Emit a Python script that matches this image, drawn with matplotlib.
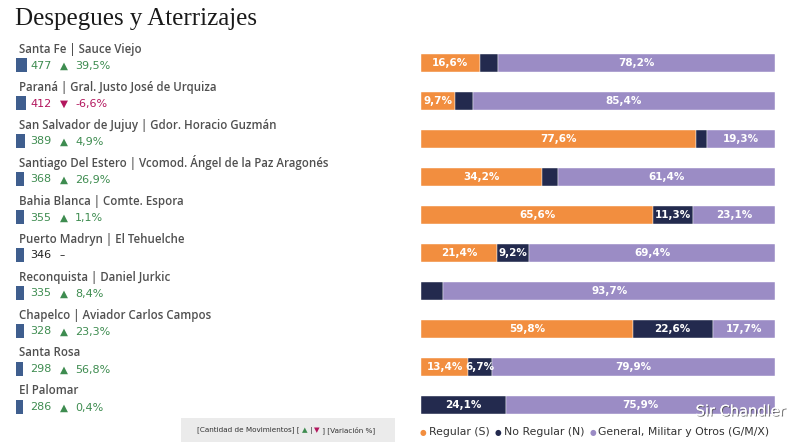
import matplotlib.pyplot as plt
import matplotlib.patheffects as pe
from matplotlib.patches import Rectangle

aeropuertos = ['Santa Fe | Sauce Viejo',
               'Paraná | Gral. Justo José de Urquiza',
               'San Salvador de Jujuy | Gdor. Horacio Guzmán',
               'Santiago Del Estero | Vcomod. Ángel de la Paz Aragonés',
               'Bahia Blanca | Comte. Espora',
               'Puerto Madryn | El Tehuelche',
               'Reconquista | Daniel Jurkic',
               'Chapelco | Aviador Carlos Campos',
               'Santa Rosa',
               'El Palomar']
movimientos = [477, 412, 389, 368, 355, 346, 335, 328, 298, 286]
variacion = [39.5, -6.6, 4.9, 26.9, 1.1, 0.0, 8.4, 23.3, 56.8, 0.4]
regular = [16.6, 9.7, 77.6, 34.2, 65.6, 21.4, 0.0, 59.8, 13.4, 0.0]
no_regular = [5.2, 4.9, 3.1, 4.4, 11.3, 9.2, 6.3, 22.6, 6.7, 24.1]
general = [78.2, 85.4, 19.3, 61.4, 23.1, 69.4, 93.7, 17.7, 79.9, 75.9]

c_reg = '#F28E3F'
c_noreg = '#232A4E'
c_gen = '#9B8CC5'
c_green = '#3E8C50'
c_red = '#B3175E'
c_mini = '#3F5E8E'

W, H = 800, 443
fig = plt.figure(figsize=(W / 100, H / 100), dpi=100)

# panel for texts, coordinates in pixels
ax = fig.add_axes([0, 0, 1, 1])
ax.set_xlim(0, W)
ax.set_ylim(H, 0)
ax.axis('off')

ax.text(15, 19, 'Despegues y Aterrizajes', family='Liberation Serif',
        fontsize=18, color='#1a1a1a', va='center', ha='left')

row0, paso = 63, 38
escala = 11 / max(movimientos)
for i, nombre in enumerate(aeropuertos):
    yc = row0 + i * paso
    ax.text(19, yc - 14, nombre, family='Open Sans', fontweight='semibold',
            fontsize=8.3, color='#505050', va='center', ha='left')
    ax.barh(yc + 2, movimientos[i] * escala, left=16, height=14, color=c_mini)
    v = variacion[i]
    if v > 0:
        col, flecha, txt = c_green, '▲', f'{v:.1f}%'.replace('.', ',')
    elif v < 0:
        col, flecha, txt = c_red, '▼', f'{v:.1f}%'.replace('.', ',')
    else:
        col, flecha, txt = '#222222', '–', ''
    ax.text(30, yc + 2.5, str(movimientos[i]), family='DejaVu Sans Condensed',
            fontsize=8, color=col, va='center', ha='left')
    ax.text(60, yc + 2.5, flecha, family='DejaVu Sans', fontsize=7.5,
            color=col, va='center', ha='left')
    ax.text(75, yc + 2.5, txt, family='DejaVu Sans Condensed',
            fontsize=8, color=col, va='center', ha='left')

# bottom key box
ax.add_patch(Rectangle((181, 418), 214, 24, color='#EBEBEB', lw=0))
partes = [('[Cantidad de Movimientos] [ ', '#333333'), ('▲', c_green),
          (' | ', '#333333'), ('▼', c_red), (' ] [Variación %]', '#333333')]
prev = ax.text(197, 430, partes[0][0], family='DejaVu Sans Condensed',
               fontsize=5.2, color=partes[0][1], va='center', ha='left')
for txt, col in partes[1:]:
    prev = ax.annotate(txt, xy=(1, 0.5), xycoords=prev,
                       family='DejaVu Sans Condensed', fontsize=5.2,
                       color=col, va='center', ha='left')

# legend of segments
ley = [('Regular (S)', c_reg), ('No Regular (N)', c_noreg),
       ('General, Militar y Otros (G/M/X)', c_gen)]
prev = None
for lab, col in ley:
    if prev is None:
        dot = ax.text(420, 432, '●', fontsize=5.5, color=col,
                      va='center', ha='left')
    else:
        dot = ax.annotate('●', xy=(1, 0.5), xycoords=prev, xytext=(4, 0),
                          textcoords='offset points', fontsize=5.5,
                          color=col, va='center', ha='left')
    prev = ax.annotate(lab, xy=(1, 0.5), xycoords=dot, xytext=(1.5, 0),
                       textcoords='offset points',
                       family='DejaVu Sans Condensed', fontsize=7.8,
                       color='#333333', va='center', ha='left')

# stacked bars
axb = fig.add_axes([421 / W, 1 - 424 / H, 354 / W, 380 / H])
y = list(range(len(aeropuertos)))
left2 = [a + b for a, b in zip(regular, no_regular)]
axb.barh(y, regular, height=0.47, color=c_reg, edgecolor='white', lw=0.3)
axb.barh(y, no_regular, left=regular, height=0.47, color=c_noreg,
         edgecolor='white', lw=0.3)
axb.barh(y, general, left=left2, height=0.47, color=c_gen,
         edgecolor='white', lw=0.3)
axb.set_xlim(0, 100)
axb.set_ylim(9.5, -0.5)
axb.axis('off')
for i in y:
    segs = [(0, regular[i]), (regular[i], no_regular[i]), (left2[i], general[i])]
    for s, w in segs:
        if w >= 6.5:
            axb.text(s + w / 2, i, f'{w:.1f}%'.replace('.', ','),
                     family='DejaVu Sans Condensed', fontweight='bold',
                     fontsize=7.5, color='white', va='center', ha='center')

fig.text(741 / W, 1 - 411 / H, 'Sir Chandler', fontsize=10.5, color='white',
         va='center', ha='center', zorder=10,
         path_effects=[pe.withSimplePatchShadow(offset=(0.7, -0.7),
                                                shadow_rgbFace='#555555',
                                                alpha=0.9), pe.Normal()])

fig.savefig('out.png', dpi=100)
